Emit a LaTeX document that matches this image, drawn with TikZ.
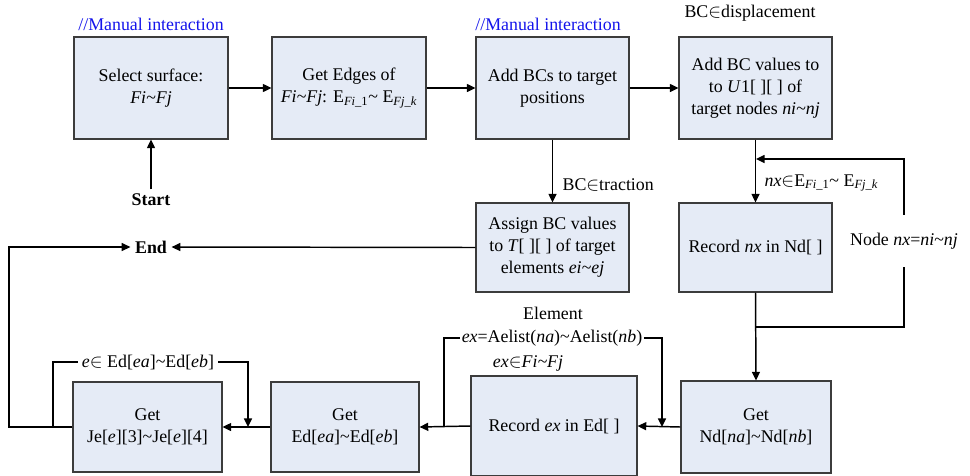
\documentclass[tikz,border=0pt]{standalone}
\usepackage{fontspec}
\setmainfont{Liberation Serif}
\usetikzlibrary{arrows.meta}
\definecolor{boxfill}{RGB}{229,235,246}
\definecolor{boxline}{RGB}{60,60,60}
\definecolor{manblue}{RGB}{20,20,235}
\begin{document}
\begin{tikzpicture}[x=0.75pt,y=-0.75pt,
  every node/.style={font=\fontsize{13.4}{16.5}\selectfont},
  box/.style={draw=boxline,line width=0.8pt,fill=boxfill,align=center,inner sep=0pt},
  conn/.style={line width=1.1pt,-{Triangle[length=6.5pt,width=6pt]}},
  plain/.style={line width=1.1pt},
  lbl/.style={inner sep=1pt},
  manual/.style={text=manblue}]
\useasboundingbox (0,0) rectangle (970,475);

% top row
\node[box,minimum width=115.5pt,minimum height=76.5pt] (b1) at (151,88) {Select surface:\\ \textit{Fi\textasciitilde Fj}};
\node[box,minimum width=115.5pt,minimum height=76.5pt] (b2) at (349,88) {Get Edges of\\ \textit{Fi\textasciitilde Fj}: E\textsubscript{\textit{Fi}\_1}\textasciitilde{} E\textsubscript{\textit{Fj\_k}}};
\node[box,minimum width=114.75pt,minimum height=76.5pt] (b3) at (552.5,88) {Add BCs to target\\ positions};
\node[box,minimum width=114.75pt,minimum height=76.5pt] (b4) at (755.5,88) {Add BC values to\\ to \textit{U}1[ ][ ] of\\ target nodes \textit{ni\textasciitilde nj}};

% middle row
\node[box,minimum width=114.75pt,minimum height=66.75pt] (b5) at (552.5,247.5) {Assign BC values\\ to \textit{T}[ ][ ] of target\\ elements \textit{ei\textasciitilde ej}};
\node[box,minimum width=114.75pt,minimum height=66.75pt] (b6) at (755.5,247.5) {Record \textit{nx} in Nd[ ]};

% bottom row
\node[box,minimum width=111.75pt,minimum height=67.5pt] (b7) at (147.5,427) {Get\\ Je[\textit{e}][3]\textasciitilde Je[\textit{e}][4]};
\node[box,minimum width=111pt,minimum height=67.5pt] (b8) at (345,427) {Get\\ Ed[\textit{ea}]\textasciitilde Ed[\textit{eb}]};
\node[box,minimum width=124.5pt,minimum height=75pt] (b9) at (554,426) {Record \textit{ex} in Ed[ ]};
\node[box,minimum width=112.5pt,minimum height=69pt] (b10) at (756,427) {Get\\ Nd[\textit{na}]\textasciitilde Nd[\textit{nb}]};

% texts
\node[manual] (m1) at (151,24) {//Manual interaction};
\node[manual] (m2) at (548,24) {//Manual interaction};
\node (disp) at (750,13) {BC$\in$displacement};
\node[anchor=west,lbl] (trac) at (561,185) {BC$\in$traction};
\node[anchor=west,lbl] (nxl) at (763,183) {\textit{nx}$\in$E\textsubscript{\textit{Fi}\_1}\textasciitilde{} E\textsubscript{\textit{Fj\_k}}};
\node[font=\fontsize{13.4}{16.5}\selectfont\bfseries] (start) at (151,200) {Start};
\node[font=\fontsize{13.4}{16.5}\selectfont\bfseries] (end) at (151,247) {End};
\node[minimum height=39pt,inner sep=0pt] (nodel) at (904,241) {Node \textit{nx}=\textit{ni\textasciitilde nj}};
\node (elem) at (553,313) {Element};
\node[lbl] (ael) at (552,338) {\textit{ex}=Aelist(\textit{na})\textasciitilde Aelist(\textit{nb})};
\node (exf) at (528,363) {\textit{ex}$\in$\textit{Fi\textasciitilde Fj}};
\node[lbl,inner xsep=3pt] (el) at (148,362) {\textit{e}$\in$ Ed[\textit{ea}]\textasciitilde Ed[\textit{eb}]};

% junction coordinates
\coordinate (j1) at (756,327);
\coordinate (j2) at (756,159);
\coordinate (ja) at (444,427);
\coordinate (jb) at (662,427);
\coordinate (je1) at (53,427);
\coordinate (je2) at (248,427);
\coordinate (jo) at (9,427);

% connectors
\draw[conn] (b1) -- (b2);
\draw[conn] (b2) -- (b3);
\draw[conn] (b3) -- (b4);
\draw[conn] (start.north) -- (b1.south);
\draw[conn] (b3.south) -- (b5.north);
\draw[conn] (b4.south) -- (b6.north);
\draw[conn] (b5.west) -- (end.east);
\draw[conn] (b6.south) -- (b10.north);
\draw[plain] (j1) -| (nodel.south);
\draw[conn] (nodel.north) |- (j2);
\draw[conn] (b10.west) -- (b9.east);
\draw[conn] (b9.west) -- (b8.east);
\draw[conn] (b8.west) -- (b7.east);
\draw[plain] (ja) |- (ael.west);
\draw[conn] (ael.east) -| (jb);
\draw[plain] (je1) |- (el.west);
\draw[conn] (el.east) -| (je2);
\draw[conn] (b7.west) -- (jo) |- (end.west);
\end{tikzpicture}
\end{document}
